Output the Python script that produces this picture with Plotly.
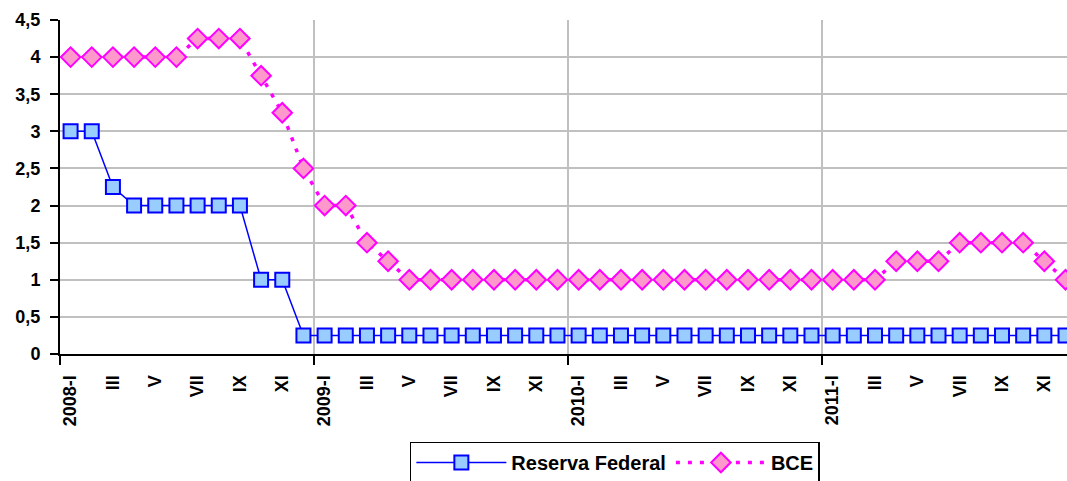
import plotly.graph_objects as go

years = ["2008", "2009", "2010", "2011"]
roman = ["I", "II", "III", "IV", "V", "VI", "VII", "VIII", "IX", "X", "XI", "XII"]
months = [f"{y}-{m}" if m == "I" else m for y in years for m in roman]

fed = [3, 3, 2.25, 2, 2, 2, 2, 2, 2, 1, 1, 0.25,
       0.25, 0.25, 0.25, 0.25, 0.25, 0.25, 0.25, 0.25, 0.25, 0.25, 0.25, 0.25,
       0.25, 0.25, 0.25, 0.25, 0.25, 0.25, 0.25, 0.25, 0.25, 0.25, 0.25, 0.25,
       0.25, 0.25, 0.25, 0.25, 0.25, 0.25, 0.25, 0.25, 0.25, 0.25, 0.25, 0.25]
bce = [4, 4, 4, 4, 4, 4, 4.25, 4.25, 4.25, 3.75, 3.25, 2.5,
       2, 2, 1.5, 1.25, 1, 1, 1, 1, 1, 1, 1, 1,
       1, 1, 1, 1, 1, 1, 1, 1, 1, 1, 1, 1,
       1, 1, 1, 1.25, 1.25, 1.25, 1.5, 1.5, 1.5, 1.5, 1.25, 1]

y_ticks = [0, 0.5, 1, 1.5, 2, 2.5, 3, 3.5, 4, 4.5]
y_text = ["0", "0,5", "1", "1,5", "2", "2,5", "3", "3,5", "4", "4,5"]

x = list(range(len(months)))
tick_idx = x[::2]
tick_text = [f"<b>{months[i]}</b>" for i in tick_idx]
year_bounds = [i - 0.5 for i in x if months[i].endswith("-I")]

fig = go.Figure()
fig.add_trace(go.Scatter(
    x=x, y=fed, name="<b>Reserva Federal</b>", mode="lines+markers",
    line=dict(color="#0000FF", width=1.5),
    marker=dict(symbol="square", size=14, color="#99CCFF",
                line=dict(color="#0000FF", width=2)),
    cliponaxis=False,
))
fig.add_trace(go.Scatter(
    x=x, y=bce, name="<b>BCE</b>", mode="lines+markers",
    line=dict(color="#FF00FF", width=3.5, dash="4px,8px"),
    marker=dict(symbol="diamond", size=15, color="#FF99CC",
                line=dict(color="#FF00FF", width=2)),
    cliponaxis=False,
))

fam = "Liberation Sans, Arial, sans-serif"

fig.update_layout(
    width=1067, height=481,
    margin=dict(l=60, r=0, t=20, b=127, autoexpand=False),
    paper_bgcolor="white", plot_bgcolor="white",
    font=dict(family=fam, color="black"),
    showlegend=True,
    legend=dict(
        orientation="h", x=0.551, xanchor="center", y=-0.262, yanchor="top",
        bordercolor="black", borderwidth=1.5,
        font=dict(family=fam, size=20, color="black"),
        itemwidth=90, tracegroupgap=0,
    ),
    xaxis=dict(
        range=[-0.5, 47.07], automargin=False,
        tickmode="array", tickvals=tick_idx, ticktext=tick_text,
        tickangle=-90, ticks="", showgrid=False, ticklabelstandoff=12,
        tickfont=dict(size=18, family=fam, color="black"),
        showline=True, linecolor="black", linewidth=2,
        zeroline=False,
        minor=dict(tickmode="array", tickvals=year_bounds, ticks="outside",
                   ticklen=9, tickwidth=2, tickcolor="black",
                   showgrid=True, gridcolor="#C0C0C0", gridwidth=2),
    ),
    yaxis=dict(
        range=[0, 4.5], automargin=False,
        tickmode="array", tickvals=y_ticks,
        ticktext=[f"<b>{t}</b>" for t in y_text],
        ticks="outside", ticklen=8, tickwidth=2, tickcolor="black",
        ticklabelstandoff=6,
        showgrid=True, gridcolor="#C0C0C0", gridwidth=2,
        showline=True, linecolor="black", linewidth=2,
        zeroline=False,
        tickfont=dict(size=18, family=fam, color="black"),
    ),
)

fig.write_html(
    "out.html",
    config={"displayModeBar": False},
    post_script="document.body.style.margin='0';document.body.style.overflow='hidden';",
)
